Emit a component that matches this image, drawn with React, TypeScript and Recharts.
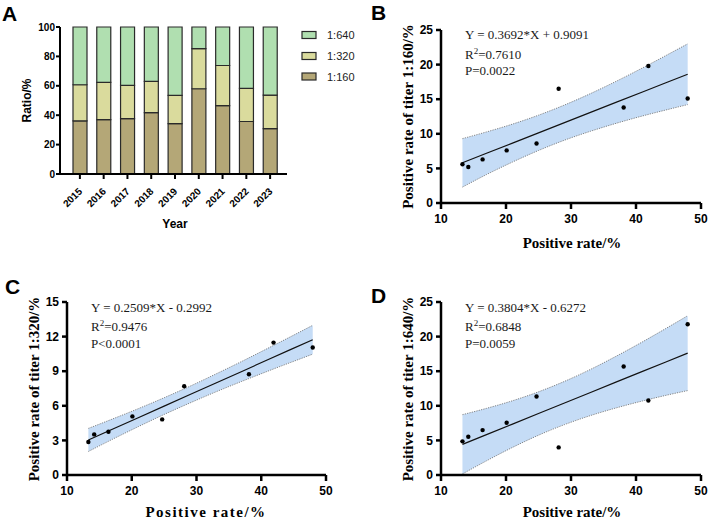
import { BarChart, Bar, XAxis, YAxis, ComposedChart, Area, Line, Scatter } from 'recharts';

// panel A: share of each titer per year (%)
const years = ['2015', '2016', '2017', '2018', '2019', '2020', '2021', '2022', '2023'];
const ratio160 = [36.1, 37.0, 37.7, 41.8, 34.3, 58.0, 46.5, 35.7, 30.9];
const ratio320 = [24.6, 25.3, 22.6, 21.2, 19.2, 27.3, 27.3, 22.5, 22.8];
const ratio640 = [39.3, 37.7, 39.7, 37.0, 46.5, 14.7, 26.2, 41.8, 46.3];

// panels B-D: positive rate vs positive rate per titer
const posRate = [13.3, 14.2, 16.4, 20.1, 24.7, 28.1, 38.1, 41.9, 47.95];
const rate160 = [5.6, 5.2, 6.3, 7.6, 8.6, 16.5, 13.8, 19.8, 15.1];
const rate320 = [2.86, 3.52, 3.75, 5.08, 4.82, 7.7, 8.74, 11.48, 11.05];
const rate640 = [4.86, 5.53, 6.49, 7.55, 11.35, 3.99, 15.67, 10.77, 21.78];

// fit line and 95% band, read along the x range
const bandX = [13.3, 17, 21, 25, 29, 33, 37, 41, 44.5, 47.95];
const fit160 = [5.82, 7.19, 8.66, 10.14, 11.62, 13.09, 14.57, 16.05, 17.34, 18.61];
const low160 = [2.3, 4.11, 5.92, 7.59, 9.08, 10.37, 11.53, 12.58, 13.42, 14.22];
const high160 = [9.3, 10.27, 11.4, 12.69, 14.16, 15.81, 17.61, 19.52, 21.26, 23.0];
const fit320 = [3.04, 3.97, 4.97, 5.97, 6.98, 7.98, 8.98, 9.99, 10.87, 11.73];
const low320 = [2.04, 3.09, 4.19, 5.25, 6.25, 7.21, 8.12, 9.0, 9.75, 10.48];
const high320 = [4.04, 4.85, 5.75, 6.7, 7.7, 8.76, 9.85, 10.98, 11.98, 12.98];
const fit640 = [4.43, 5.84, 7.36, 8.88, 10.4, 11.93, 13.45, 14.97, 16.3, 17.61];
const low640 = [0.15, 2.05, 3.99, 5.75, 7.28, 8.59, 9.71, 10.7, 11.49, 12.2];
const high640 = [8.72, 9.63, 10.73, 12.02, 13.53, 15.26, 17.19, 19.24, 21.12, 23.02];

const SANS = '"Liberation Sans", Arial, sans-serif';
const SERIF = '"Liberation Serif", "Times New Roman", serif';

const barData = years.map((y, i) => ({ year: y, t160: ratio160[i], t320: ratio320[i], t640: ratio640[i] }));
const makeBand = (fit: number[], lo: number[], hi: number[]) =>
  bandX.map((x, i) => ({ x, fit: fit[i], lo: lo[i], hi: hi[i], range: [lo[i], hi[i]] }));
const makePts = (ys: number[]) => posRate.map((x, i) => ({ x, y: ys[i] }));

const C640 = '#b0dfb0';
const C320 = '#dadb9d';
const C160 = '#b4a777';

function YearTick({ x, y, payload }: any) {
  const tx = x + 3;
  const ty = y + 11;
  return (
    <text x={tx} y={ty} transform={`rotate(-45 ${tx} ${ty})`} textAnchor="end" fontFamily={SANS} fontWeight="bold" fontSize={10} fill="#000">
      {payload.value}
    </text>
  );
}

const Dot = (p: any) => <circle cx={p.cx} cy={p.cy} r={2.2} fill="#000" />;

function RegPanel({ left, top, height, yAxisWidth, marginTop, marginRight, yMax, yTicks, band, pts }: any) {
  const axis = { stroke: '#000', strokeWidth: 2.5 };
  const tickFont = { fontFamily: SANS, fontWeight: 'bold', fontSize: 12, fill: '#000' };
  return (
    <div style={{ position: 'absolute', left, top }}>
      <ComposedChart width={354} height={height} data={band} margin={{ top: marginTop, right: marginRight, left: 0, bottom: height - marginTop - 173 - 30 }}>
        <XAxis type="number" dataKey="x" domain={[10, 50]} ticks={[10, 20, 30, 40, 50]} height={30}
          axisLine={axis} tickLine={axis} tickSize={6} tickMargin={5} tick={tickFont} allowDataOverflow />
        <YAxis type="number" domain={[0, yMax]} ticks={yTicks} width={yAxisWidth}
          axisLine={axis} tickLine={axis} tickSize={5} tickMargin={3} tick={tickFont} allowDataOverflow />
        <Area type="monotone" dataKey="range" fill="#c5dcf6" fillOpacity={1} stroke="none" isAnimationActive={false} />
        <Line type="monotone" dataKey="hi" stroke="#777" strokeWidth={0.9} strokeDasharray="1.2 1.2" dot={false} isAnimationActive={false} />
        <Line type="monotone" dataKey="lo" stroke="#777" strokeWidth={0.9} strokeDasharray="1.2 1.2" dot={false} isAnimationActive={false} />
        <Line type="linear" dataKey="fit" stroke="#111" strokeWidth={1.2} dot={false} isAnimationActive={false} />
        <Scatter data={pts} dataKey="y" shape={Dot} isAnimationActive={false} />
      </ComposedChart>
    </div>
  );
}

function Equation({ x, y, eq, r2, p }: any) {
  return (
    <g fontFamily={SERIF} fontSize={13} fill="#1a1a1a">
      <text x={x} y={y}>{eq}</text>
      <text x={x} y={y + 19.5}>R<tspan dy={-5} fontSize={9}>2</tspan><tspan dy={5}>{r2}</tspan></text>
      <text x={x} y={y + 36}>{p}</text>
    </g>
  );
}

export default function App() {
  const legend = [
    { name: '1:640', color: C640, y: 35 },
    { name: '1:320', color: C320, y: 56 },
    { name: '1:160', color: C160, y: 76.5 },
  ];
  const titleStyle = { fontFamily: SERIF, fontWeight: 'bold' as const, fontSize: 15, fill: '#000' };
  return (
    <div style={{ position: 'absolute', left: 0, top: 0, width: 708, height: 519, background: '#fff' }}>
      <div style={{ position: 'absolute', left: 0, top: 0 }}>
        <BarChart width={354} height={250} data={barData} margin={{ top: 27, right: 67, left: 0, bottom: 0 }}>
          <XAxis dataKey="year" height={76} padding={{ left: 8, right: 5 }} interval={0}
            axisLine={{ stroke: '#000', strokeWidth: 2 }} tickLine={{ stroke: '#000', strokeWidth: 2 }} tickSize={5} tick={YearTick} />
          <YAxis domain={[0, 100]} ticks={[0, 20, 40, 60, 80, 100]} width={60}
            axisLine={{ stroke: '#000', strokeWidth: 2 }} tickLine={{ stroke: '#000', strokeWidth: 2 }} tickSize={4} tickMargin={1}
            tick={{ fontFamily: SANS, fontWeight: 'bold', fontSize: 10, fill: '#000' }} />
          <Bar dataKey="t160" stackId="a" fill={C160} stroke="#2a2a2a" strokeWidth={1.2} barSize={14} isAnimationActive={false} />
          <Bar dataKey="t320" stackId="a" fill={C320} stroke="#2a2a2a" strokeWidth={1.2} barSize={14} isAnimationActive={false} />
          <Bar dataKey="t640" stackId="a" fill={C640} stroke="#2a2a2a" strokeWidth={1.2} barSize={14} isAnimationActive={false} />
        </BarChart>
      </div>

      <RegPanel left={354} top={0} height={260} yAxisWidth={87} marginTop={30} marginRight={7}
        yMax={25} yTicks={[0, 5, 10, 15, 20, 25]} band={makeBand(fit160, low160, high160)} pts={makePts(rate160)} />
      <RegPanel left={0} top={250} height={269} yAxisWidth={67} marginTop={52} marginRight={28}
        yMax={15} yTicks={[0, 3, 6, 9, 12, 15]} band={makeBand(fit320, low320, high320)} pts={makePts(rate320)} />
      <RegPanel left={354} top={250} height={269} yAxisWidth={87} marginTop={52} marginRight={7}
        yMax={25} yTicks={[0, 5, 10, 15, 20, 25]} band={makeBand(fit640, low640, high640)} pts={makePts(rate640)} />

      <svg width={708} height={519} style={{ position: 'absolute', left: 0, top: 0, pointerEvents: 'none' }}>
        <g fontFamily={SANS} fontWeight="bold" fontSize={21} fill="#000">
          <text x={2} y={21}>A</text>
          <text x={371} y={20}>B</text>
          <text x={5} y={294}>C</text>
          <text x={371} y={303}>D</text>
        </g>

        <text x={31} y={100.5} transform="rotate(-90 31 100.5)" textAnchor="middle" fontFamily={SANS} fontWeight="bold" fontSize={12}>Ratio/%</text>
        <text x={175} y={228} textAnchor="middle" fontFamily={SANS} fontWeight="bold" fontSize={12}>Year</text>
        {legend.map((l) => (
          <g key={l.name}>
            <rect x={302} y={l.y - 3.5} width={14} height={7} fill={l.color} stroke="#2a2a2a" strokeWidth={1.2} />
            <text x={327} y={l.y + 4} fontFamily={SANS} fontSize={11} fill="#222">{l.name}</text>
          </g>
        ))}

        <text x={413} y={116.5} transform="rotate(-90 413 116.5)" textAnchor="middle" {...titleStyle}>Positive rate of titer 1:160/%</text>
        <text x={572} y={248} textAnchor="middle" {...titleStyle}>Positive rate/%</text>
        <text x={39} y={389} transform="rotate(-90 39 389)" textAnchor="middle" {...titleStyle}>Positive rate of titer 1:320/%</text>
        <text x={206} y={517} textAnchor="middle" letterSpacing={1.5} {...titleStyle}>Positive rate/%</text>
        <text x={413} y={389} transform="rotate(-90 413 389)" textAnchor="middle" {...titleStyle}>Positive rate of titer 1:640/%</text>
        <text x={572} y={517} textAnchor="middle" {...titleStyle}>Positive rate/%</text>

        <Equation x={465} y={39.3} eq="Y = 0.3692*X + 0.9091" r2="=0.7610" p="P=0.0022" />
        <Equation x={91} y={311.6} eq="Y = 0.2509*X - 0.2992" r2="=0.9476" p="P<0.0001" />
        <Equation x={465} y={311.6} eq="Y = 0.3804*X - 0.6272" r2="=0.6848" p="P=0.0059" />
      </svg>
    </div>
  );
}
